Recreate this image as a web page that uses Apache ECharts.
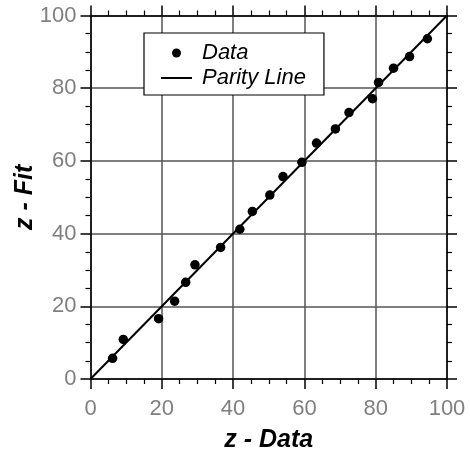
<!DOCTYPE html>
<html>
<head>
<meta charset="utf-8">
<script src="https://cdn.jsdelivr.net/npm/echarts@6/dist/echarts.min.js"></script>
<style>
  html, body { margin: 0; padding: 0; background: #fff; }
  #chart { width: 470px; height: 451px; }
</style>
</head>
<body>
<div id="chart"></div>
<script>
// Measured z values and the corresponding fitted z values
const zData = [6.2, 9.2, 19.1, 23.6, 26.7, 29.3, 36.5, 41.9, 45.4, 50.3,
               54.0, 59.3, 63.4, 68.7, 72.5, 79.1, 80.8, 85.0, 89.5, 94.5];
const zFit  = [5.7, 10.9, 16.6, 21.4, 26.6, 31.4, 36.2, 41.2, 46.1, 50.6,
               55.7, 59.6, 64.9, 68.8, 73.3, 77.1, 81.6, 85.5, 88.7, 93.6];
// y = x reference line end points
const parityX = [0, 100];
const parityY = [0, 100];
const axisMin = 0, axisMax = 100, axisStep = 20;

const FONT = 'Liberation Sans, Arial, sans-serif';

const scatterPts = zData.map((x, i) => [x, zFit[i]]);
const parityPts = parityX.map((x, i) => [x, parityY[i]]);

function makeAxis(extra) {
  return Object.assign({
    type: 'value',
    min: axisMin, max: axisMax, interval: axisStep,
    axisLine: { show: true, onZero: false, lineStyle: { color: '#000', width: 1.5 } },
    axisTick: { show: true, inside: false, length: 10, lineStyle: { color: '#000', width: 1.5 } },
    minorTick: { show: true, splitNumber: 4, length: 5, lineStyle: { color: '#000', width: 1.2 } },
    splitLine: { show: false },
    axisLabel: { show: false }
  }, extra);
}

const labelStyle = { show: true, color: '#808080', fontFamily: FONT, fontSize: 22 };
const nameStyle = { color: '#000', fontFamily: FONT, fontSize: 25, fontWeight: 'bold', fontStyle: 'italic' };

const chart = echarts.init(document.getElementById('chart'), null, { renderer: 'canvas' });
chart.setOption({
  animation: false,
  backgroundColor: '#fff',
  grid: { left: 90.5, right: 23, top: 15.5, bottom: 72, containLabel: false, outerBoundsMode: 'none' },
  legend: {
    orient: 'vertical',
    left: 144, top: 33,
    padding: [8, 18, 5, 17],
    itemWidth: 31, itemHeight: 9, itemGap: 1,
    backgroundColor: '#fff',
    borderColor: '#000', borderWidth: 1.2,
    textStyle: { fontFamily: FONT, fontSize: 22, fontStyle: 'italic', color: '#000',
                 lineHeight: 24, padding: [0, 0, 0, 5] },
    data: [
      { name: 'Data', icon: 'circle' },
      { name: 'Parity Line', icon: 'path://M0,0L31,0L31,2L0,2Z' }
    ]
  },
  xAxis: [
    makeAxis({
      position: 'bottom',
      name: 'z - Data', nameLocation: 'middle', nameGap: 49, nameMoveOverlap: false,
      nameTextStyle: nameStyle,
      splitLine: { show: true, lineStyle: { color: '#555', width: 1.5 } },
      axisLabel: Object.assign({ margin: 19 }, labelStyle)
    }),
    makeAxis({ position: 'top' })
  ],
  yAxis: [
    makeAxis({
      position: 'left',
      name: 'z - Fit', nameLocation: 'middle', nameGap: 53, nameMoveOverlap: false,
      nameTextStyle: nameStyle,
      splitLine: { show: true, lineStyle: { color: '#555', width: 1.5 } },
      axisLabel: Object.assign({ margin: 14 }, labelStyle)
    }),
    makeAxis({ position: 'right' })
  ],
  series: [
    {
      name: 'Parity Line', type: 'line', data: parityPts,
      xAxisIndex: 0, yAxisIndex: 0,
      symbol: 'none', showSymbol: false,
      lineStyle: { color: '#000', width: 2 },
      itemStyle: { color: '#000' },
      z: 2
    },
    {
      name: 'Data', type: 'scatter', data: scatterPts,
      xAxisIndex: 0, yAxisIndex: 0,
      symbol: 'circle', symbolSize: 9.5,
      itemStyle: { color: '#000', opacity: 1 },
      z: 3
    }
  ]
});
</script>
</body>
</html>
